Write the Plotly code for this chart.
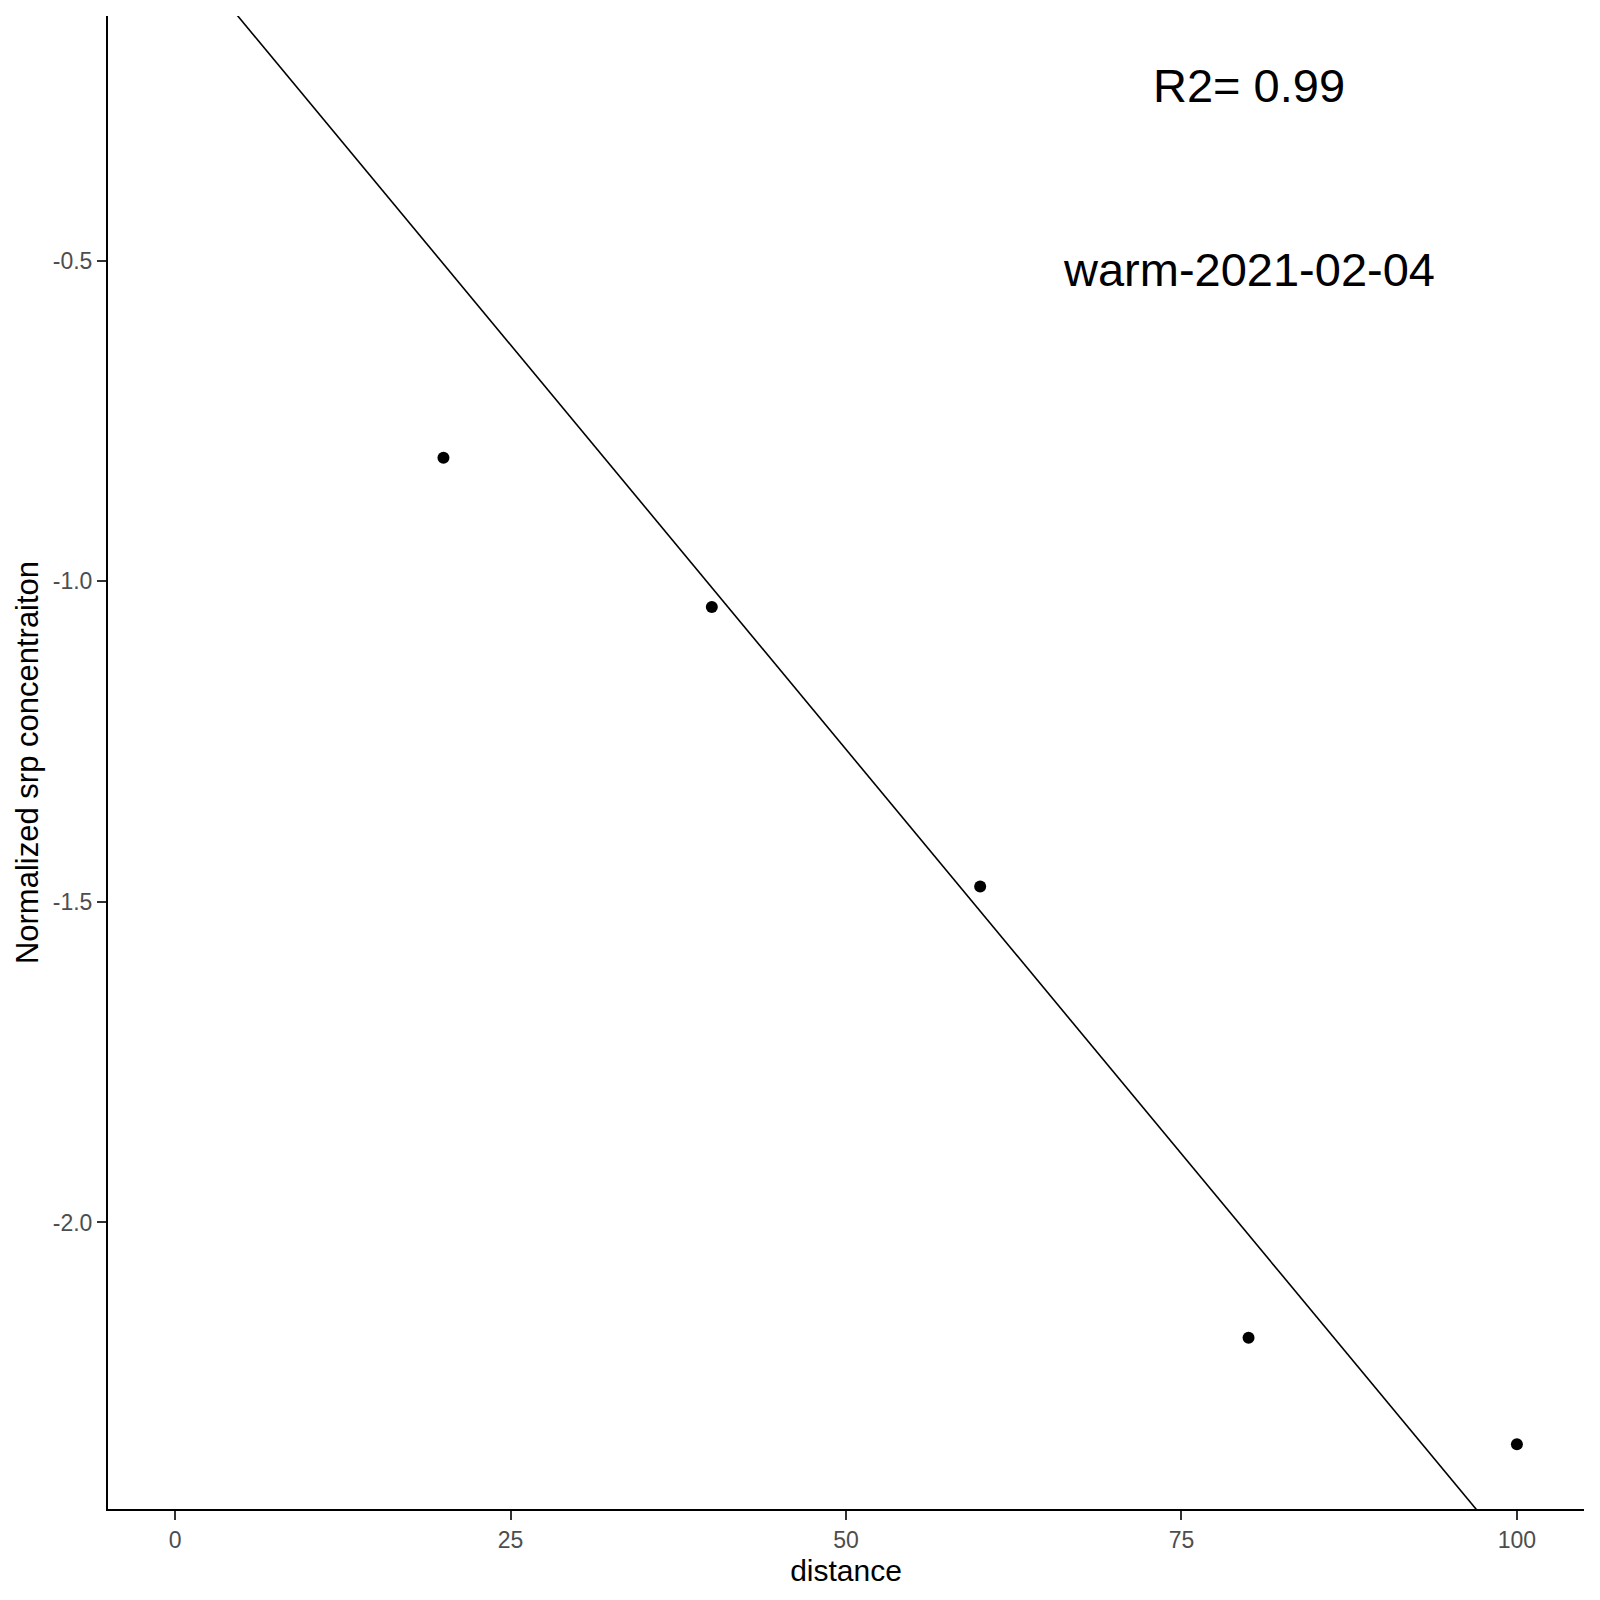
"""Perfil de SRP normalizado vs distancia (warm-2021-02-04), ajuste lineal por el origen."""

import plotly.graph_objects as go

# datos
distance = [20, 40, 60, 80, 100]
srp_norm = [-0.807, -1.040, -1.476, -2.180, -2.346]
fit_slope = -0.02524  # recta y = b*x (sin intercepto)
r2_label = "R2= 0.99"
run_label = "warm-2021-02-04"
label_x = [80, 80]
label_y = [-0.226, -0.514]

x_range = [-5, 105]
y_range = [-2.447, -0.118]
x_ticks = [0, 25, 50, 75, 100]
y_ticks = [-2.0, -1.5, -1.0, -0.5]
y_tick_labels = ["-2.0", "-1.5", "-1.0", "-0.5"]

_FONT = "Liberation Sans, Arial, sans-serif"

fig = go.Figure()
fig.add_trace(go.Scatter(
    x=x_range, y=[fit_slope * v for v in x_range],
    mode="lines", line=dict(color="black", width=1.6),
    showlegend=False, hoverinfo="skip",
))
fig.add_trace(go.Scatter(
    x=distance, y=srp_norm, mode="markers",
    marker=dict(color="black", size=12),
    showlegend=False,
))

for text, ax, ay in zip([r2_label, run_label], label_x, label_y):
    fig.add_annotation(x=ax, y=ay, text=text, showarrow=False,
                       font=dict(family=_FONT, size=47, color="black"),
                       xanchor="center", yanchor="middle")

axis_common = dict(
    showgrid=False, zeroline=False, showline=True, linecolor="black", linewidth=2,
    ticks="outside", ticklen=9, tickwidth=2, tickcolor="#333333",
    tickfont=dict(family=_FONT, size=23, color="#4D4D4D"),
)
fig.update_xaxes(range=x_range, tickvals=x_ticks, title_text="distance",
                 title_font=dict(family=_FONT, size=30, color="black"),
                 title_standoff=8, **axis_common)
fig.update_yaxes(range=y_range, tickvals=y_ticks, ticktext=y_tick_labels,
                 title_text="Normalized srp concentraiton",
                 title_font=dict(family=_FONT, size=31, color="black"),
                 title_standoff=5, **axis_common)

fig.update_layout(
    width=1600, height=1600,
    margin=dict(l=100, r=24, t=8, b=99),
    plot_bgcolor="white", paper_bgcolor="white",
    font=dict(family=_FONT),
)

fig.write_html("out.html")
